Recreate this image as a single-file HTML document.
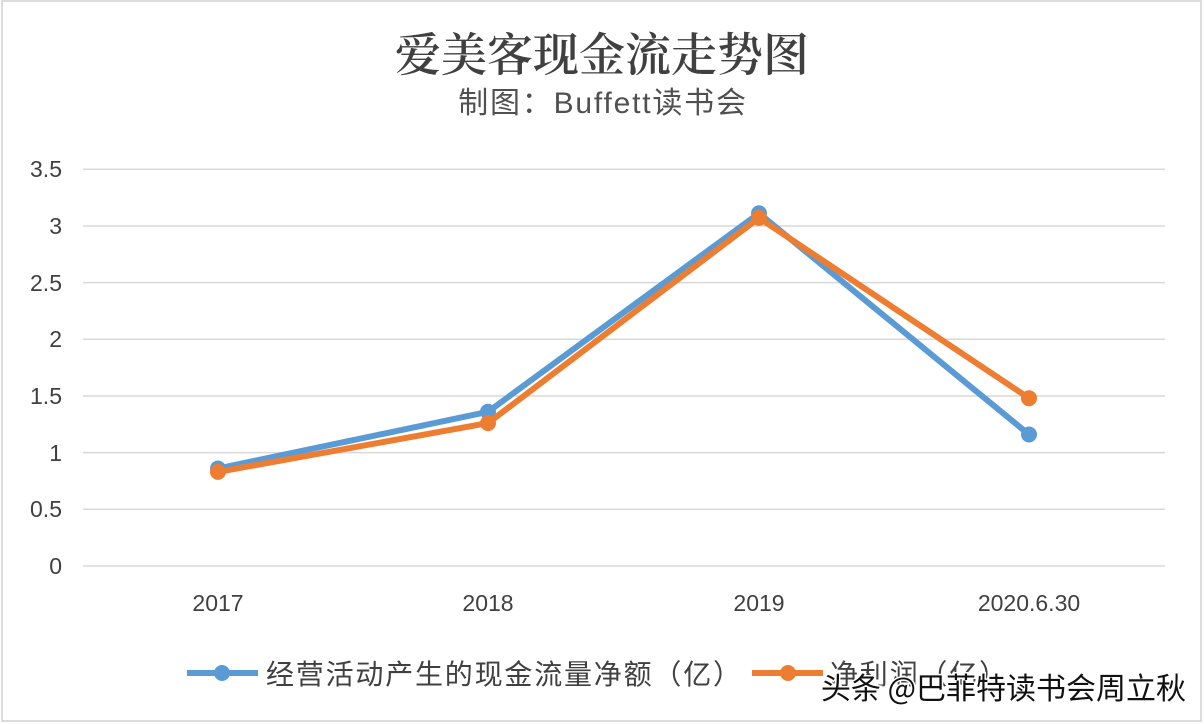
<!DOCTYPE html>
<html><head><meta charset="utf-8"><style>
html,body{margin:0;padding:0;background:#fff;}
</style></head><body>
<svg width="1204" height="724" xmlns="http://www.w3.org/2000/svg" style="display:block">
<rect x="2" y="1" width="1199" height="720" fill="#fff" stroke="#d0d0d0" stroke-width="1.5"/>
<text x="602" y="71" text-anchor="middle" font-family="'Noto Serif CJK SC',serif" font-size="46" font-weight="600" fill="#404040">爱美客现金流走势图</text>
<text x="603" y="113" text-anchor="middle" font-family="'Liberation Sans','Noto Sans CJK SC',sans-serif" font-size="30" letter-spacing="1.8" fill="#505050">制图：Buffett读书会</text>
<g stroke="#d9d9d9" stroke-width="1.5">
<line x1="83" x2="1165" y1="566" y2="566"/>
<line x1="83" x2="1165" y1="509.3" y2="509.3"/>
<line x1="83" x2="1165" y1="452.6" y2="452.6"/>
<line x1="83" x2="1165" y1="396" y2="396"/>
<line x1="83" x2="1165" y1="339.3" y2="339.3"/>
<line x1="83" x2="1165" y1="282.6" y2="282.6"/>
<line x1="83" x2="1165" y1="226" y2="226"/>
<line x1="83" x2="1165" y1="169.3" y2="169.3"/>
</g>
<g font-family="'Liberation Sans',sans-serif" font-size="23" fill="#404040" text-anchor="end">
<text x="62" y="574">0</text><text x="62" y="517">0.5</text><text x="62" y="461">1</text>
<text x="62" y="404">1.5</text><text x="62" y="347">2</text><text x="62" y="291">2.5</text>
<text x="62" y="234">3</text><text x="62" y="177">3.5</text>
</g>
<g font-family="'Liberation Sans',sans-serif" font-size="23" fill="#404040" text-anchor="middle">
<text x="218" y="611">2017</text><text x="488" y="611">2018</text><text x="759" y="611">2019</text><text x="1029" y="611">2020.6.30</text>
</g>
<polyline points="218,468.5 488,411.8 759,213.3 1029,434.5" fill="none" stroke="#5b9bd5" stroke-width="6" stroke-linejoin="round"/>
<g fill="#5b9bd5"><circle cx="218" cy="468.5" r="8"/><circle cx="488" cy="411.8" r="8"/><circle cx="759" cy="213.3" r="8"/><circle cx="1029" cy="434.5" r="8"/></g>
<polyline points="218,471.9 488,423.1 759,217.9 1029,398.2" fill="none" stroke="#ed7d31" stroke-width="6" stroke-linejoin="round"/>
<g fill="#ed7d31"><circle cx="218" cy="471.9" r="8"/><circle cx="488" cy="423.1" r="8"/><circle cx="759" cy="217.9" r="8"/><circle cx="1029" cy="398.2" r="8"/></g>
<line x1="187" x2="258" y1="673" y2="673" stroke="#5b9bd5" stroke-width="6"/>
<circle cx="222" cy="673" r="8" fill="#5b9bd5"/>
<text x="266" y="684" font-family="'Noto Sans CJK SC',sans-serif" font-size="28" letter-spacing="1.8" fill="#404040">经营活动产生的现金流量净额（亿）</text>
<line x1="752" x2="823" y1="673" y2="673" stroke="#ed7d31" stroke-width="6"/>
<circle cx="788" cy="673" r="8" fill="#ed7d31"/>
<text x="830" y="684" font-family="'Noto Sans CJK SC',sans-serif" font-size="28" letter-spacing="1.8" fill="#404040">净利润（亿）</text>
<text x="1186" y="699" text-anchor="end" font-family="'Noto Sans CJK SC',sans-serif" font-size="30" fill="#111" stroke="#fff" stroke-width="3" paint-order="stroke">头条 @巴菲特读书会周立秋</text>
</svg>
</body></html>
